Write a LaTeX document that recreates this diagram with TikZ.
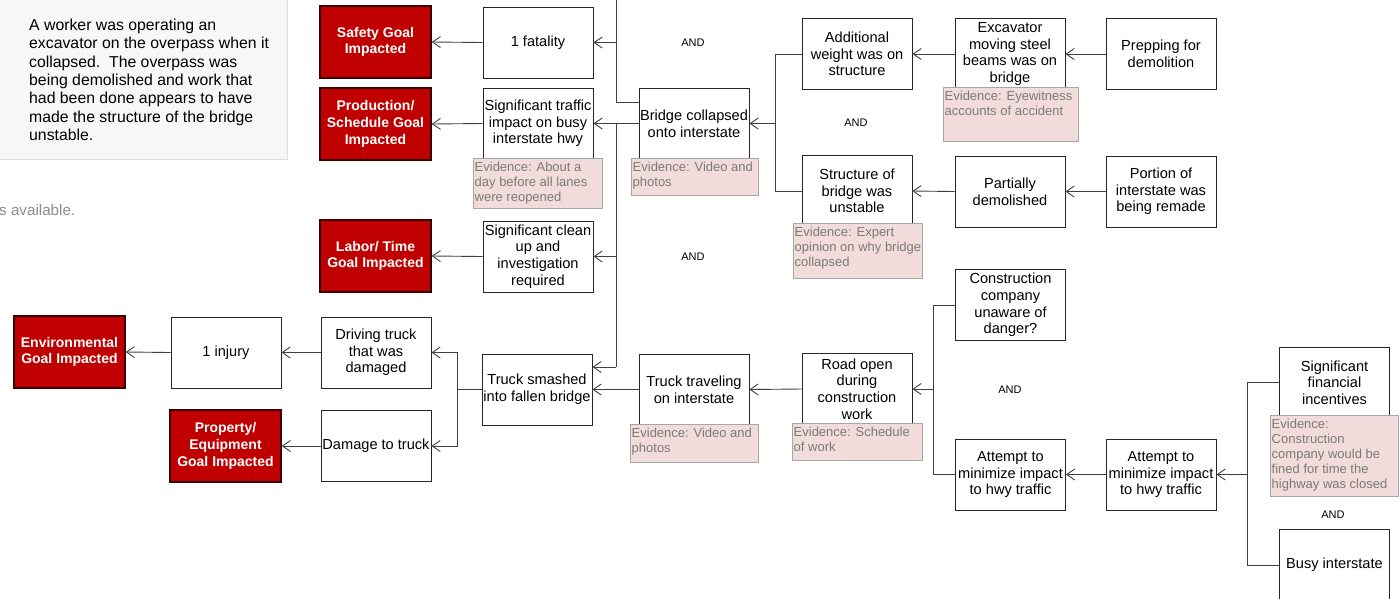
\documentclass[tikz,border=0pt]{standalone}
\usepackage{fontspec}
\setmainfont{Liberation Sans}
\usetikzlibrary{arrows.meta}
\definecolor{goalred}{HTML}{C00000}
\definecolor{goalline}{HTML}{3A0000}
\definecolor{evfill}{HTML}{F2DCDB}
\definecolor{evtext}{HTML}{7A7A7A}
\definecolor{evline}{HTML}{A6A6A6}
\definecolor{linegray}{HTML}{404040}
\definecolor{notefill}{HTML}{F7F7F7}
\definecolor{noteline}{HTML}{DDDDDD}
\begin{document}
\begin{tikzpicture}[x=1pt,y=-1pt,
  box/.style={draw=black!85, line width=0.9pt, fill=white, minimum width=110pt, minimum height=71pt, inner sep=0pt, align=center, font=\fontsize{14.6}{16.7}\selectfont},
  goal/.style={draw=goalline, line width=1.4pt, fill=goalred, text=white, minimum width=111pt, minimum height=72pt, inner sep=0pt, align=center, font=\fontsize{14}{16.7}\selectfont\bfseries},
  evbox/.style={draw=evline, line width=0.9pt, fill=evfill, inner sep=0pt, anchor=north west},
  evtxt/.style={text=evtext, anchor=north west, inner sep=0pt, align=left, font=\fontsize{13}{15}\selectfont},
  andlbl/.style={inner sep=0pt, font=\fontsize{11}{13}\selectfont},
  conn/.style={draw=linegray, line width=0.9pt},
  arr/.style={conn, -{Straight Barb[length=8pt,width=11pt]}},
]
\useasboundingbox (0,0) rectangle (1400,598);

% note box
\node[draw=noteline, fill=notefill, line width=0.9pt, anchor=north west, minimum width=288pt, minimum height=160pt, inner sep=0pt] (note) at (-1,-1) {};
\node[anchor=north west, inner sep=0pt, align=left, font=\fontsize{15.8}{18.3}\selectfont] (notetxt) at (29,19)
 {A worker was operating an\\excavator on the overpass when it\\collapsed.\ \ The overpass was\\being demolished and work that\\had been done appears to have\\made the structure of the bridge\\unstable.};
\node[anchor=base west, inner sep=0pt, text=black!45, font=\fontsize{15.2}{17}\selectfont] (avail) at (-1,215) {s available.};

% goal boxes
\node[goal] (safety) at (375.5,42) {Safety Goal\\Impacted};
\node[goal] (prod) at (375.5,124) {Production/\\Schedule Goal\\Impacted};
\node[goal] (labor) at (375.5,256) {Labor/ Time\\Goal Impacted};
\node[goal] (env) at (69.5,352) {Environmental\\Goal Impacted};
\node[goal] (prop) at (225.5,446) {Property/\\Equipment\\Goal Impacted};

% event boxes
\node[box] (fatal) at (538,42.5) {1 fatality};
\node[box] (traffic) at (538,123.5) {Significant traffic\\impact on busy\\interstate hwy};
\node[box] (cleanup) at (538,256.5) {Significant clean\\up and\\investigation\\required};
\node[box] (bridge) at (694,123.5) {Bridge collapsed\\onto interstate};
\node[box] (addw) at (857,54) {Additional\\weight was on\\structure};
\node[box] (struct) at (857,191) {Structure of\\bridge was\\unstable};
\node[box] (excav) at (1010,54) {Excavator\\moving steel\\beams was on\\bridge};
\node[box] (prep) at (1161,54) {Prepping for\\demolition};
\node[box] (partial) at (1010,191.5) {Partially\\demolished};
\node[box] (portion) at (1161,191.5) {Portion of\\interstate was\\being remade};
\node[box] (driving) at (376,352.5) {Driving truck\\that was\\damaged};
\node[box] (injury) at (226,352.5) {1 injury};
\node[box] (damage) at (376,446) {Damage to truck};
\node[box] (smashed) at (537,389.5) {Truck smashed\\into fallen bridge};
\node[box] (traveling) at (694,389.5) {Truck traveling\\on interstate};
\node[box] (roadopen) at (857,389) {Road open\\during\\construction\\work};
\node[box] (ccu) at (1010.5,305) {Construction\\company\\unaware of\\danger?};
\node[box] (att1) at (1010.5,474.5) {Attempt to\\minimize impact\\to hwy traffic};
\node[box] (att2) at (1161,474.5) {Attempt to\\minimize impact\\to hwy traffic};
\node[box] (sigfin) at (1334.5,382.5) {Significant\\financial\\incentives};
\node[box] (busy) at (1334.5,565) {Busy interstate};

% evidence boxes
\node[evbox, minimum width=129pt, minimum height=50pt] (evtraffic) at (473,158) {};
\node[evtxt] (evtraffict) at (474.5,161.5) {Evidence: About a\\day before all lanes\\were reopened};
\node[evbox, minimum width=127pt, minimum height=37pt] (evbridge) at (631,158) {};
\node[evtxt] (evbridget) at (632.5,161.5) {Evidence: Video and\\photos};
\node[evbox, minimum width=135pt, minimum height=54pt] (evexcav) at (943,87) {};
\node[evtxt] (evexcavt) at (944.5,90.5) {Evidence: Eyewitness\\accounts of accident};
\node[evbox, minimum width=129pt, minimum height=55pt] (evstruct) at (793,223) {};
\node[evtxt] (evstructt) at (794.5,226.5) {Evidence: Expert\\opinion on why bridge\\collapsed};
\node[evbox, minimum width=128pt, minimum height=38pt] (evtravel) at (630,424) {};
\node[evtxt] (evtravelt) at (631.5,427.5) {Evidence: Video and\\photos};
\node[evbox, minimum width=130pt, minimum height=37pt] (evroad) at (792,423) {};
\node[evtxt] (evroadt) at (793.5,426.5) {Evidence: Schedule\\of work};
\node[evbox, minimum width=128pt, minimum height=81pt] (evfin) at (1270,415) {};
\node[evtxt] (evfint) at (1271.5,418.5) {Evidence:\\Construction\\company would be\\fined for time the\\highway was closed};

% AND labels
\node[andlbl] (and1) at (693,43) {AND};
\node[andlbl] (and2) at (856,123) {AND};
\node[andlbl] (and3) at (693,257) {AND};
\node[andlbl] (and4) at (1010,390) {AND};
\node[andlbl] (and5) at (1333,515) {AND};

% junction coordinates
\coordinate (topend) at (616,0);
\coordinate (jb1) at (616,102);
\coordinate (jb2) at (616,367);
\coordinate (jadd) at (775,54);
\coordinate (jc) at (933,305);
\coordinate (jf) at (1247,382.5);
\coordinate (js) at (457,389.5);

% simple connectors
\draw[arr] (fatal.west) -- (safety.east);
\draw[arr] (traffic.west) -- (prod.east);
\draw[arr] (cleanup.west) -- (labor.east);
\draw[arr] (injury.west) -- (env.east);
\draw[arr] (driving.west) -- (injury.east);
\draw[arr] (damage.west) -- (prop.east);
\draw[arr] (excav.west) -- (addw.east);
\draw[arr] (prep.west) -- (excav.east);
\draw[arr] (partial.west) -- (struct.east);
\draw[arr] (portion.west) -- (partial.east);
\draw[arr] (traveling.west) -- (smashed.east);
\draw[arr] (roadopen.west) -- (traveling.east);
\draw[arr] (att2.west) -- (att1.east);
\draw[arr] (bridge.west) -- (traffic.east);

% bridge branches
\draw[conn] (bridge.west |- jb1) -- (jb1) -- (topend);
\draw[arr] (fatal.east -| jb1) -- (fatal.east);
\draw[conn] (bridge.west -| jb2) -- (jb2);
\draw[arr] (cleanup.east -| jb2) -- (cleanup.east);
\draw[arr] (jb2) -- (smashed.east |- jb2);

% AND gate to bridge
\draw[conn] (addw.west) -- (jadd) |- (struct.west);
\draw[arr] (bridge.east -| jadd) -- (bridge.east);

% AND gate to road open
\draw[conn] (ccu.west) -- (jc) |- (att1.west);
\draw[arr] (roadopen.east -| jc) -- (roadopen.east);

% AND gate to attempt
\draw[conn] (sigfin.west) -- (jf) |- (busy.west);
\draw[arr] (att2.east -| jf) -- (att2.east);

% truck smashed consequences
\draw[conn] (smashed.west) -- (js);
\draw[arr] (js) |- (driving.east);
\draw[arr] (js) |- (damage.east);
\end{tikzpicture}
\end{document}
